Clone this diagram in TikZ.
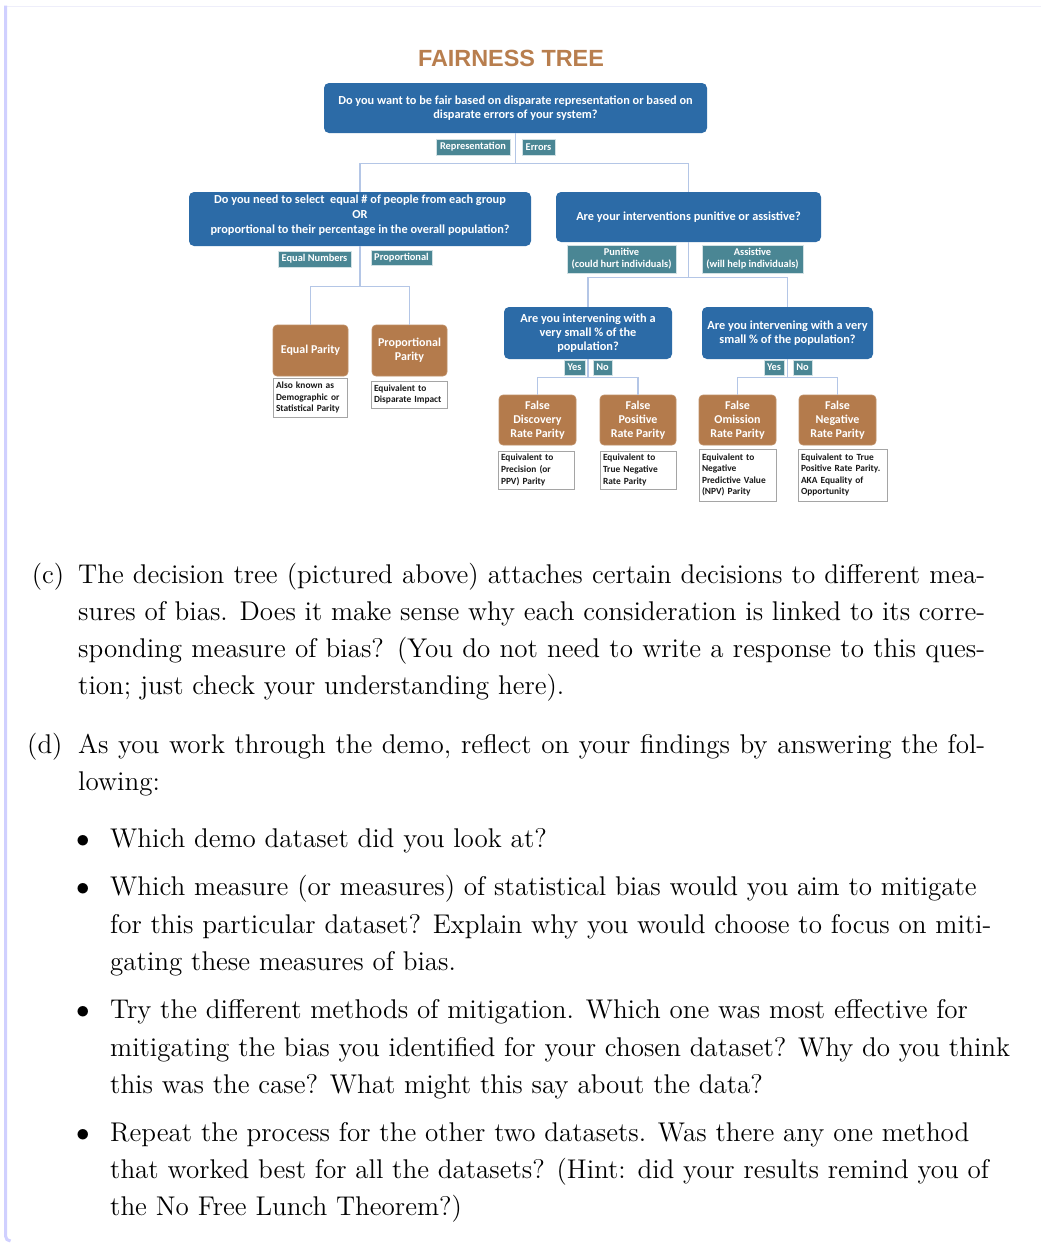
\documentclass[tikz,border=0pt]{standalone}
\usepackage{fontspec}
\usepackage{graphicx}
\newfontfamily\carl{Carlito}
\newfontfamily\arialf{Liberation Sans}
\definecolor{blueBox}{RGB}{44,107,167}
\definecolor{tealLab}{RGB}{74,134,148}
\definecolor{brownLeaf}{RGB}{180,123,76}
\definecolor{connC}{RGB}{180,198,230}
\definecolor{noteBorder}{RGB}{165,165,165}
\definecolor{noteText}{RGB}{25,25,25}
\definecolor{titleC}{RGB}{184,126,78}
\definecolor{frameBar}{RGB}{208,208,255}
\definecolor{frameTop}{RGB}{238,238,250}
\newcommand{\bodyscale}{2.255}
\newlength{\jw}
\pgfmathsetlength{\jw}{907/\bodyscale}
\newcommand{\bodyln}[1]{\scalebox{\bodyscale}{\fontsize{12}{14.5}\selectfont #1}}
\newcommand{\bodyjs}[1]{\scalebox{\bodyscale}{\fontsize{12}{14.5}\selectfont\makebox[\jw][s]{#1}}}
\tikzset{
  qbox/.style={fill=blueBox, rounded corners=5pt, text=white, inner sep=0pt,
    font=\carl\bfseries\fontsize{12.3}{14}\selectfont, align=center},
  qtext/.style={text=white, inner sep=0pt, font=\carl\bfseries\fontsize{12.3}{15}\selectfont, align=center},
  lab/.style={fill=tealLab, draw=white!75!tealLab, line width=0.6pt, text=white, inner sep=0pt,
    font=\carl\bfseries\fontsize{10.4}{12}\selectfont, align=center},
  leaf/.style={fill=brownLeaf, draw=brownLeaf!85!white, line width=0.6pt, rounded corners=4pt, text=white, inner sep=0pt,
    font=\carl\bfseries\fontsize{12}{14}\selectfont, align=center, minimum height=51pt},
  note/.style={draw=noteBorder, fill=white, line width=0.6pt, text=noteText, inner xsep=3pt, inner ysep=0pt,
    font=\carl\bfseries\fontsize{9.4}{11.6}\selectfont, align=left},
  conn/.style={draw=connC, line width=1.2pt},
  body/.style={anchor=base west, inner sep=0pt, text=black}
}
\begin{document}
\begin{tikzpicture}[x=1pt,y=1pt]
\useasboundingbox (0,0) rectangle (1041,-1243);
\fill[white] (0,0) rectangle (1041,-1243);
% frame
\draw[frameTop, line width=1pt] (4,-6) -- (1041,-6);
\draw[frameBar, line width=3pt] (5.5,-5.5) -- (5.5,-1236) arc[start angle=180, end angle=270, radius=5];

% title
\node[text=titleC, font=\arialf\bfseries\fontsize{23.4}{28}\selectfont, inner sep=0pt] (title) at (511,-58) {FAIRNESS TREE};

% boxes
\node[qbox, minimum width=383pt, minimum height=50pt] (root) at (515.5,-108)
  {Do you want to be fair based on disparate representation or based on\\disparate errors of your system?};
\node[qbox, minimum width=342pt, minimum height=54pt] (left) at (360,-219) {};
\node[qtext] (leftT) at (360,-215.5)
  {Do you need to select\ \ equal \# of people from each group\\OR\\proportional to their percentage in the overall population?};
\node[qbox, minimum width=265pt, minimum height=50pt] (right) at (688.5,-217)
  {Are your interventions punitive or assistive?};
\node[qbox, minimum width=168pt, minimum height=52pt] (midL) at (588,-333)
  {Are you intervening with a\\very small \% of the\\population?};
\node[qbox, minimum width=171pt, minimum height=52pt] (midR) at (787.5,-333)
  {Are you intervening with a very\\small \% of the population?};

% leaves
\node[leaf, minimum width=75pt] (eqp) at (310.5,-350.5) {Equal Parity};
\node[leaf, minimum width=75pt] (propp) at (409.5,-350.5) {Proportional\\Parity};
\node[leaf, minimum width=77pt, minimum height=50pt] (fdr) at (537.5,-420) {False\\Discovery\\Rate Parity};
\node[leaf, minimum width=76pt, minimum height=50pt] (fpr) at (638,-420) {False\\Positive\\Rate Parity};
\node[leaf, minimum width=77pt, minimum height=50pt] (forr) at (737.5,-420) {False\\Omission\\Rate Parity};
\node[leaf, minimum width=77pt, minimum height=50pt] (fnr) at (837.5,-420) {False\\Negative\\Rate Parity};

% connectors
\draw[conn] (root.south) -- ++(0,-30) coordinate (j1);
\draw[conn] (j1) -| (left.north);
\draw[conn] (j1) -| (right.north);
\draw[conn] (left.south) -- ++(0,-40) coordinate (j2);
\draw[conn] (j2) -| (eqp.north);
\draw[conn] (j2) -| (propp.north);
\draw[conn] (right.south) -- ++(0,-35) coordinate (j3);
\draw[conn] (j3) -| (midL.north);
\draw[conn] (j3) -| (midR.north);
\draw[conn] (midL.south) -- ++(0,-18) coordinate (j4);
\draw[conn] (j4) -| (fdr.north);
\draw[conn] (j4) -| (fpr.north);
\draw[conn] (midR.south) -- ++(0,-18) coordinate (j5);
\draw[conn] (j5) -| (forr.north);
\draw[conn] (j5) -| (fnr.north);

% labels
\node[lab, minimum width=74pt, minimum height=16pt] (lRep) at (473,-147) {Representation};
\node[lab, minimum width=33pt, minimum height=16pt] (lErr) at (538.5,-147) {Errors};
\node[lab, minimum width=73pt, minimum height=16pt] (lEqN) at (314.5,-259) {Equal Numbers};
\node[lab, minimum width=61pt, minimum height=15pt] (lProp) at (401.5,-257.5) {Proportional};
\node[lab, minimum width=109pt, minimum height=28pt] (lPun) at (621.5,-259) {Punitive\\(could hurt individuals)};
\node[lab, minimum width=101pt, minimum height=28pt] (lAss) at (752.5,-259) {Assistive\\(will help individuals)};
\node[lab, minimum width=21pt, minimum height=15pt] (lYes1) at (574.5,-367.5) {Yes};
\node[lab, minimum width=19pt, minimum height=15pt] (lNo1) at (602.5,-367.5) {No};
\node[lab, minimum width=20pt, minimum height=15pt] (lYes2) at (774,-367.5) {Yes};
\node[lab, minimum width=19pt, minimum height=15pt] (lNo2) at (802.5,-367.5) {No};

% notes
\node[note, text width=68pt, minimum height=39pt] (eqpN) at (310,-397.5) {Also known as\\Demographic or\\Statistical Parity};
\node[note, text width=70pt, minimum height=27pt] (proppN) at (409,-394.5) {Equivalent to\\Disparate Impact};
\node[note, text width=70pt, minimum height=38pt] (fdrN) at (536,-470) {Equivalent to\\Precision (or\\PPV) Parity};
\node[note, text width=70pt, minimum height=38pt] (fprN) at (638,-470) {Equivalent to\\True Negative\\Rate Parity};
\node[note, text width=71pt, minimum height=52pt] (forN) at (737.5,-475) {Equivalent to\\Negative\\Predictive Value\\(NPV) Parity};
\node[note, text width=83pt, minimum height=52pt] (fnrN) at (842.5,-475) {Equivalent to True\\Positive Rate Parity.\\AKA Equality of\\Opportunity};

% body text
\node[body] (cL) at (31.7,-583.5) {\bodyln{(c)}};
\node[body] (c1) at (78,-583.5) {\bodyjs{The decision tree (pictured above) attaches certain decisions to different mea-}};
\node[body] (c2) at (78,-620.5) {\bodyjs{sures of bias. Does it make sense why each consideration is linked to its corre-}};
\node[body] (c3) at (78,-657.5) {\bodyjs{sponding measure of bias? (You do not need to write a response to this ques-}};
\node[body] (c4) at (78,-694.5) {\bodyln{tion; just check your understanding here).}};
\node[body] (dL) at (27,-753.5) {\bodyln{(d)}};
\node[body] (d1) at (78,-753.5) {\bodyjs{As you work through the demo, reflect on your findings by answering the fol-}};
\node[body] (d2) at (78,-790.5) {\bodyln{lowing:}};
\node[body] (k1) at (76,-847.5) {\bodyln{$\bullet$}};
\node[body] (b1) at (110,-847.5) {\bodyln{Which demo dataset did you look at?}};
\node[body] (k2) at (76,-895.5) {\bodyln{$\bullet$}};
\node[body] (b21) at (110,-895.5) {\bodyln{Which measure (or measures) of statistical bias would you aim to mitigate}};
\node[body] (b22) at (110,-933.5) {\bodyln{for this particular dataset? Explain why you would choose to focus on miti-}};
\node[body] (b23) at (110,-970.5) {\bodyln{gating these measures of bias.}};
\node[body] (k3) at (76,-1018.5) {\bodyln{$\bullet$}};
\node[body] (b31) at (110,-1018.5) {\bodyln{Try the different methods of mitigation. Which one was most effective for}};
\node[body] (b32) at (110,-1056.5) {\bodyln{mitigating the bias you identified for your chosen dataset? Why do you think}};
\node[body] (b33) at (110,-1093.5) {\bodyln{this was the case? What might this say about the data?}};
\node[body] (k4) at (76,-1141.5) {\bodyln{$\bullet$}};
\node[body] (b41) at (110,-1141.5) {\bodyln{Repeat the process for the other two datasets. Was there any one method}};
\node[body] (b42) at (110,-1178.5) {\bodyln{that worked best for all the datasets? (Hint: did your results remind you of}};
\node[body] (b43) at (110,-1215.5) {\bodyln{the No Free Lunch Theorem?)}};
\end{tikzpicture}
\end{document}
